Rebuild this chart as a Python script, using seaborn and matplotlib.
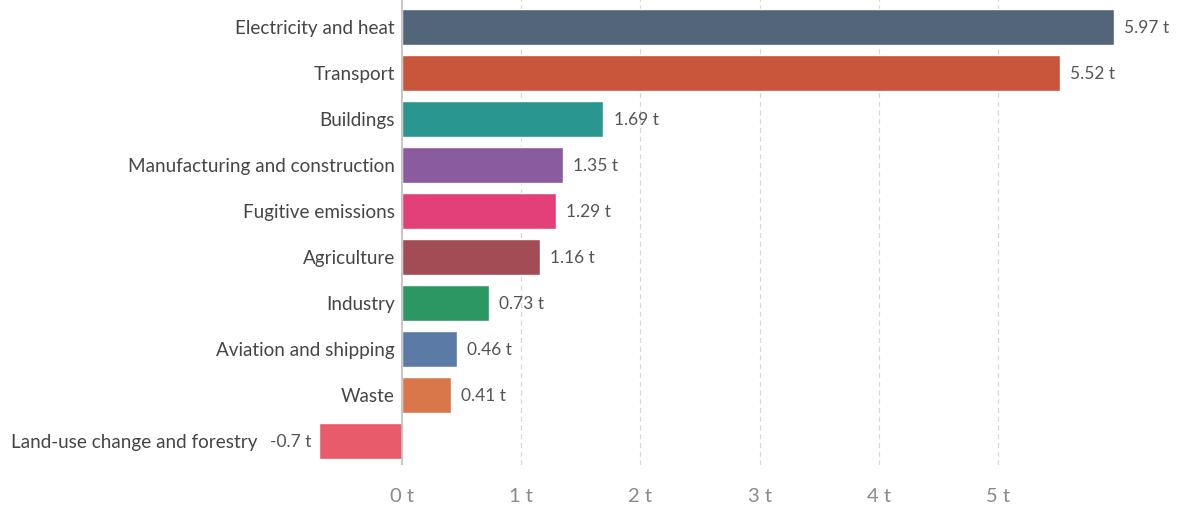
import matplotlib
matplotlib.use("Agg")
import matplotlib.pyplot as plt
import seaborn as sns
import pandas as pd

sectors = [
    "Electricity and heat",
    "Transport",
    "Buildings",
    "Manufacturing and construction",
    "Fugitive emissions",
    "Agriculture",
    "Industry",
    "Aviation and shipping",
    "Waste",
    "Land-use change and forestry",
]
emissions = [5.97, 5.52, 1.69, 1.35, 1.29, 1.16, 0.73, 0.46, 0.41, -0.7]
value_labels = ["5.97 t", "5.52 t", "1.69 t", "1.35 t", "1.29 t",
                "1.16 t", "0.73 t", "0.46 t", "0.41 t", "-0.7 t"]
colors = ["#536579", "#c9553a", "#2a9690", "#8a5b9e", "#e3407a",
          "#a34c55", "#2b9863", "#5b7ba6", "#d9764a", "#e85b6b"]
x_ticks = [0, 1, 2, 3, 4, 5]
x_tick_labels = ["0 t", "1 t", "2 t", "3 t", "4 t", "5 t"]

df = pd.DataFrame({"sector": sectors, "emissions": emissions})

sns.set_style("white")
plt.rcParams["font.family"] = ["Lato", "DejaVu Sans"]

fig = plt.figure(figsize=(11.84, 5.06), dpi=100)
ax = fig.add_axes([0.0, 40 / 506, 1.0, 466 / 506])

sns.barplot(data=df, x="emissions", y="sector", hue="sector", palette=colors,
            order=sectors, hue_order=sectors, legend=False, width=0.78,
            saturation=1, ax=ax)

ax.set_xlim(-3.372, 6.56)
ax.set_ylim(9.52, -0.609)

for spine in ax.spines.values():
    spine.set_visible(False)

# dashed vertical gridlines and the solid zero line
for t in x_ticks[1:]:
    ax.axvline(t, color="#d8d8d8", lw=0.9, ls=(0, (4, 3)), zorder=0)
ax.axvline(0, color="#bdbdbd", lw=1.2, zorder=3)

ax.set_xticks(x_ticks)
ax.set_xticklabels(x_tick_labels, fontsize=14.5, color="#8a8a8a")
ax.tick_params(axis="x", length=0, pad=16)
ax.set_yticks([])
ax.set_xlabel("")
ax.set_ylabel("")

# value labels beside each bar, sector names left of zero (or of the label for negatives)
for i, (name, val, lab) in enumerate(zip(sectors, emissions, value_labels)):
    if val >= 0:
        ax.text(val + 0.085, i, lab, ha="left", va="center",
                fontsize=12.5, color="#555555")
        ax.text(-0.06, i, name, ha="right", va="center",
                fontsize=13.6, color="#464646")
    else:
        ax.text(val - 0.063, i, lab, ha="right", va="center",
                fontsize=12.5, color="#555555")
        ax.text(-1.208, i, name, ha="right", va="center",
                fontsize=13.6, color="#464646")

fig.savefig("out.png", dpi=100)
